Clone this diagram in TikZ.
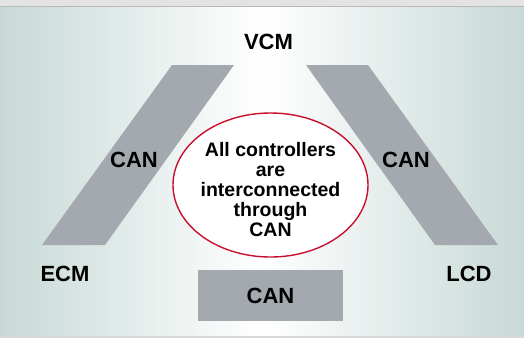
\documentclass[tikz,border=0pt]{standalone}
\usepackage{fontspec}
\setmainfont{Liberation Sans}
\usetikzlibrary{shapes.geometric}
\definecolor{bandgray}{RGB}{164,169,176}
\definecolor{bgedge}{RGB}{199,217,214}
\definecolor{ringred}{RGB}{200,16,46}

\begin{document}
\begin{tikzpicture}[x=1pt, y=-1pt]
  \tikzset{
    unit_label/.style={font=\fontsize{22}{24}\selectfont\bfseries, inner sep=0pt},
    bus_band/.style={fill=bandgray, draw=none},
    bus_box/.style={rectangle, fill=bandgray, minimum width=145pt, minimum height=51pt, inner sep=0pt,
      font=\fontsize{22}{24}\selectfont\bfseries},
    note_ring/.style={ellipse, draw=ringred, fill=white, line width=1.4pt,
      minimum width=195pt, minimum height=144pt, inner sep=0pt},
    note_text/.style={align=center, inner sep=0pt, font=\fontsize{19.5}{20}\selectfont\bfseries}
  }
  \useasboundingbox (0,0) rectangle (524,338);

  % Draw the background with the pale band on top
  \fill[gray!22] (0,0) rectangle (524,6);
  \fill[gray!55] (0,6) rectangle (524,7.5);
  \shade[left color=bgedge, right color=bgedge, middle color=white] (0,7.5) rectangle (524,336);
  \fill[gray!30] (0,336) rectangle (524,338);

  % Draw the two slanted CAN bands, the right one mirrors the left one
  \foreach \s in {1,-1} {
    \fill[bus_band] (270+\s*228,245) -- (270+\s*165,245) -- (270+\s*36,65) -- (270+\s*98,65) -- cycle;
  }

  % Controllers
  \node[unit_label] (vcm) at (268.5,42) {VCM};
  \node[unit_label] (ecm) at (65,273.5) {ECM};
  \node[unit_label] (lcd) at (469,273.5) {LCD};

  % Labels on the bands
  \node[unit_label] (can_left) at (134,160) {CAN};
  \node[unit_label] (can_right) at (406,160) {CAN};

  % Note in the middle
  \node[note_ring] (ring) at (270.5,185) {};
  \node[note_text] (note) at ([yshift=-5pt]ring.center) {All controllers\\are\\interconnected\\through\\CAN};

  % Bus box at the bottom
  \node[bus_box] (can_bus) at (270.5,295.5) {CAN};
\end{tikzpicture}
\end{document}
